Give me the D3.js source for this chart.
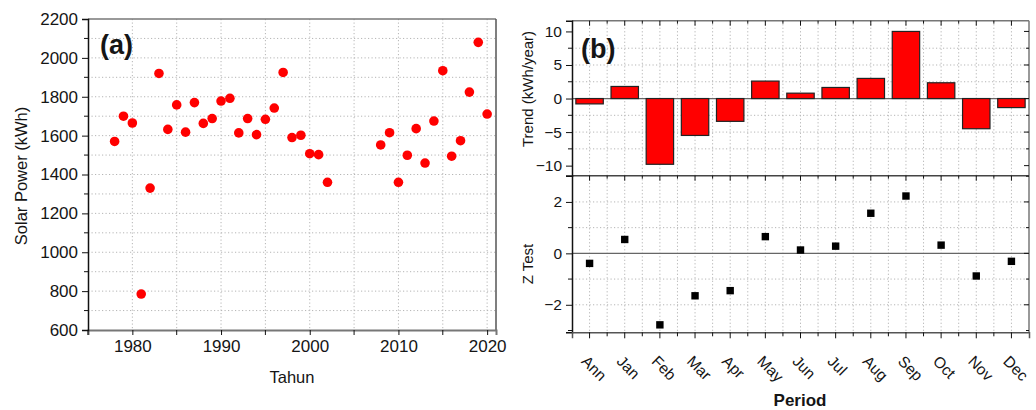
<!DOCTYPE html>
<html lang="en">
  <head>
    <meta charset="UTF-8">
    <title>Solar Power</title>
    <style>
      body { margin: 0; background: #fff; }
      text { font-family: "Liberation Sans", Arial, sans-serif; fill: #151515; }
    </style>
  </head>
  <body>
    <svg id="chart" width="1036" height="410"></svg>
    <script src="https://d3js.org/d3.v7.min.js"></script>
    <script>
      // data panel (a)
      var years = [1978, 1979, 1980, 1981, 1982, 1983, 1984, 1985, 1986, 1987, 1988, 1989, 1990,
                   1991, 1992, 1993, 1994, 1995, 1996, 1997, 1998, 1999, 2000, 2001, 2002,
                   2008, 2009, 2010, 2011, 2012, 2013, 2014, 2015, 2016, 2017, 2018, 2019, 2020];
      var power = [1570, 1700, 1665, 785, 1330, 1920, 1632, 1758, 1618, 1770, 1663, 1688, 1778,
                   1792, 1614, 1688, 1605, 1684, 1742, 1925, 1590, 1602, 1507, 1502, 1360,
                   1552, 1615, 1360, 1499, 1636, 1459, 1675, 1934, 1494, 1574, 1824, 2080, 1711];
      var yearTicks = [1980, 1990, 2000, 2010, 2020];
      var powerTicks = [600, 800, 1000, 1200, 1400, 1600, 1800, 2000, 2200];

      // data panel (b)
      var periods = ["Ann", "Jan", "Feb", "Mar", "Apr", "May", "Jun", "Jul", "Aug", "Sep", "Oct", "Nov", "Dec"];
      var trend = [-0.8, 1.8, -9.8, -5.5, -3.4, 2.6, 0.8, 1.65, 3.0, 10.0, 2.35, -4.5, -1.35];
      var zTest = [-0.39, 0.54, -2.78, -1.65, -1.45, 0.65, 0.13, 0.28, 1.56, 2.23, 0.32, -0.88, -0.31];
      var trendTicks = [-10, -5, 0, 5, 10];
      var zTicks = [-2, 0, 2];

      var svg = d3.select("#chart");

      function grid(g, x1, x2, y1, y2, xs, ys) {
        xs.forEach(function (x) {
          g.append("line").attr("x1", x).attr("x2", x).attr("y1", y1).attr("y2", y2)
            .attr("stroke", "#b5b5b5").attr("stroke-dasharray", "1.2,2.3");
        });
        ys.forEach(function (y) {
          g.append("line").attr("x1", x1).attr("x2", x2).attr("y1", y).attr("y2", y)
            .attr("stroke", "#b5b5b5").attr("stroke-dasharray", "1.2,2.3");
        });
      }

      // ---------------- panel (a) ----------------
      var A = {l: 88, r: 496, t: 19, b: 330};
      var xA = d3.scaleLinear().domain([1975, 2021]).range([A.l, A.r]);
      var yA = d3.scaleLinear().domain([600, 2200]).range([A.b, A.t]);
      var ga = svg.append("g");

      grid(ga, A.l, A.r, A.t, A.b,
        d3.range(1980, 2021, 5).map(xA),
        d3.range(700, 2200, 100).map(yA));

      ga.selectAll("circle").data(years).enter().append("circle")
        .attr("cx", function (d) { return xA(d); })
        .attr("cy", function (d, i) { return yA(power[i]); })
        .attr("r", 4.8)
        .attr("fill", "#ff0000");

      // frame
      ga.append("line").attr("x1", A.l).attr("x2", A.r).attr("y1", A.t).attr("y2", A.t).attr("stroke", "#777").attr("stroke-width", 1.5);
      ga.append("line").attr("x1", A.r).attr("x2", A.r).attr("y1", A.t).attr("y2", A.b).attr("stroke", "#555").attr("stroke-width", 1.5);

      var axA = d3.axisBottom(xA).tickValues(yearTicks).tickFormat(d3.format("d")).tickSize(5).tickPadding(5);
      var gxA = ga.append("g").attr("transform", "translate(0," + A.b + ")").call(axA);
      // minor x ticks
      d3.range(1975, 2021, 10).forEach(function (v) {
        gxA.append("line").attr("x1", xA(v)).attr("x2", xA(v)).attr("y1", 0).attr("y2", 5).attr("stroke", "#111");
      });
      gxA.select(".domain").attr("stroke", "#777").attr("stroke-width", 2);

      var ayA = d3.axisLeft(yA).tickValues(powerTicks).tickFormat(d3.format("d")).tickSize(6).tickPadding(4);
      var gyA = ga.append("g").attr("transform", "translate(" + A.l + ",0)").call(ayA);
      d3.range(700, 2200, 200).forEach(function (v) {
        gyA.append("line").attr("x1", 0).attr("x2", -4).attr("y1", yA(v)).attr("y2", yA(v)).attr("stroke", "#111");
      });
      gyA.select(".domain").attr("stroke", "#111").attr("stroke-width", 1.5);

      [gxA, gyA].forEach(function (g) {
        g.selectAll("text").style("font-size", "17px").attr("fill", "#151515");
        g.selectAll(".tick line").attr("stroke", "#111");
      });

      ga.append("text").attr("x", 292).attr("y", 383).attr("text-anchor", "middle")
        .style("font-size", "16.5px").text("Tahun");
      ga.append("text").attr("transform", "translate(27,176) rotate(-90)").attr("text-anchor", "middle")
        .style("font-size", "16.5px").text("Solar Power (kWh)");
      ga.append("text").attr("x", 100).attr("y", 54).style("font-size", "27px").style("font-weight", "bold").text("(a)");

      // ---------------- panel (b) ----------------
      var B = {l: 572, r: 1029, t: 20.7, m: 175.7, b: 332.3};
      var xB = d3.scaleBand().domain(periods).range([B.l, B.r]).paddingInner(0.22).paddingOuter(0.11);
      var step = xB.step();
      var centers = periods.map(function (p) { return xB(p) + xB.bandwidth() / 2; });
      var edges = d3.range(1, periods.length).map(function (i) { return B.l + i * step; });
      var yT = d3.scaleLinear().domain([-11.5, 11.6]).range([B.m, B.t]);
      var yZ = d3.scaleLinear().domain([-3.07, 3.02]).range([B.b, B.m]);
      var gb = svg.append("g");

      grid(gb, B.l, B.r, B.t, B.m, centers.concat(edges), [-7.5, -5, -2.5, 2.5, 5, 7.5].map(yT));
      grid(gb, B.l, B.r, B.m, B.b, centers.concat(edges), [-2, -1, 1, 2].map(yZ));

      // zero lines
      gb.append("line").attr("x1", B.l).attr("x2", B.r).attr("y1", yT(0)).attr("y2", yT(0)).attr("stroke", "#666").attr("stroke-width", 1.2);
      gb.append("line").attr("x1", B.l).attr("x2", B.r).attr("y1", yZ(0)).attr("y2", yZ(0)).attr("stroke", "#666").attr("stroke-width", 1.2);

      gb.selectAll("rect.bar").data(periods).enter().append("rect")
        .attr("class", "bar")
        .attr("x", function (d) { return xB(d); })
        .attr("width", xB.bandwidth())
        .attr("y", function (d, i) { return yT(Math.max(0, trend[i])); })
        .attr("height", function (d, i) { return Math.abs(yT(trend[i]) - yT(0)); })
        .attr("fill", "#ff0000").attr("stroke", "#222").attr("stroke-width", 1.2);

      gb.selectAll("rect.pt").data(periods).enter().append("rect")
        .attr("class", "pt")
        .attr("x", function (d, i) { return centers[i] - 3.7; })
        .attr("y", function (d, i) { return yZ(zTest[i]) - 3.7; })
        .attr("width", 7.4).attr("height", 7.4)
        .attr("fill", "#000");

      // frames and inner ticks
      gb.append("line").attr("x1", B.l).attr("x2", B.r).attr("y1", B.t).attr("y2", B.t).attr("stroke", "#777").attr("stroke-width", 1.5);
      gb.append("line").attr("x1", B.r).attr("x2", B.r).attr("y1", B.t).attr("y2", B.b).attr("stroke", "#777").attr("stroke-width", 1.5);
      gb.append("line").attr("x1", B.l).attr("x2", B.r).attr("y1", B.m).attr("y2", B.m).attr("stroke", "#444").attr("stroke-width", 1.5);
      centers.forEach(function (c) {
        gb.append("line").attr("x1", c).attr("x2", c).attr("y1", B.t).attr("y2", B.t + 5).attr("stroke", "#111");
        gb.append("line").attr("x1", c).attr("x2", c).attr("y1", B.m).attr("y2", B.m + 5).attr("stroke", "#111");
      });
      edges.forEach(function (c) {
        gb.append("line").attr("x1", c).attr("x2", c).attr("y1", B.t).attr("y2", B.t + 3).attr("stroke", "#111");
        gb.append("line").attr("x1", c).attr("x2", c).attr("y1", B.m).attr("y2", B.m + 3).attr("stroke", "#111");
      });
      d3.range(-10, 10.1, 2.5).forEach(function (v) {
        gb.append("line").attr("x1", B.r).attr("x2", B.r - (v % 5 === 0 ? 5 : 3)).attr("y1", yT(v)).attr("y2", yT(v)).attr("stroke", "#111");
      });
      d3.range(-3, 3.1, 1).forEach(function (v) {
        gb.append("line").attr("x1", B.r).attr("x2", B.r - (v % 2 === 0 ? 5 : 3)).attr("y1", yZ(v)).attr("y2", yZ(v)).attr("stroke", "#111");
      });

      var gyT = gb.append("g").attr("transform", "translate(" + B.l + ",0)")
        .call(d3.axisLeft(yT).tickValues(trendTicks).tickFormat(d3.format("d")).tickSize(6).tickPadding(4));
      [-7.5, -2.5, 2.5, 7.5].forEach(function (v) {
        gyT.append("line").attr("x1", 0).attr("x2", -4).attr("y1", yT(v)).attr("y2", yT(v)).attr("stroke", "#111");
      });
      var gyZ = gb.append("g").attr("transform", "translate(" + B.l + ",0)")
        .call(d3.axisLeft(yZ).tickValues(zTicks).tickFormat(d3.format("d")).tickSize(6).tickPadding(4));
      [-3, -1, 1].forEach(function (v) {
        gyZ.append("line").attr("x1", 0).attr("x2", -4).attr("y1", yZ(v)).attr("y2", yZ(v)).attr("stroke", "#111");
      });
      var gxB = gb.append("g").attr("transform", "translate(0," + B.b + ")")
        .call(d3.axisBottom(xB).tickSize(6).tickPadding(4));
      edges.forEach(function (c) {
        gxB.append("line").attr("x1", c).attr("x2", c).attr("y1", 0).attr("y2", 4).attr("stroke", "#111");
      });
      gxB.selectAll(".tick text")
        .attr("text-anchor", "start")
        .attr("dy", 0)
        .attr("transform", "translate(-2,23) rotate(45)");

      [gyT, gyZ, gxB].forEach(function (g) {
        g.selectAll("text").style("font-size", "15.5px").attr("fill", "#151515");
        g.selectAll(".tick line").attr("stroke", "#111");
        g.select(".domain").attr("stroke", "#111").attr("stroke-width", 1.5);
      });
      gxB.select(".domain").attr("stroke", "#555").attr("stroke-width", 1.5);

      gb.append("text").attr("transform", "translate(533,89) rotate(-90)").attr("text-anchor", "middle")
        .style("font-size", "15px").text("Trend (kWh/year)");
      gb.append("text").attr("transform", "translate(533,264) rotate(-90)").attr("text-anchor", "middle")
        .style("font-size", "15px").text("Z Test");
      gb.append("text").attr("x", 800).attr("y", 406).attr("text-anchor", "middle")
        .style("font-size", "17px").style("font-weight", "bold").text("Period");
      gb.append("text").attr("x", 581).attr("y", 58).style("font-size", "27px").style("font-weight", "bold").text("(b)");
    </script>
  </body>
</html>
